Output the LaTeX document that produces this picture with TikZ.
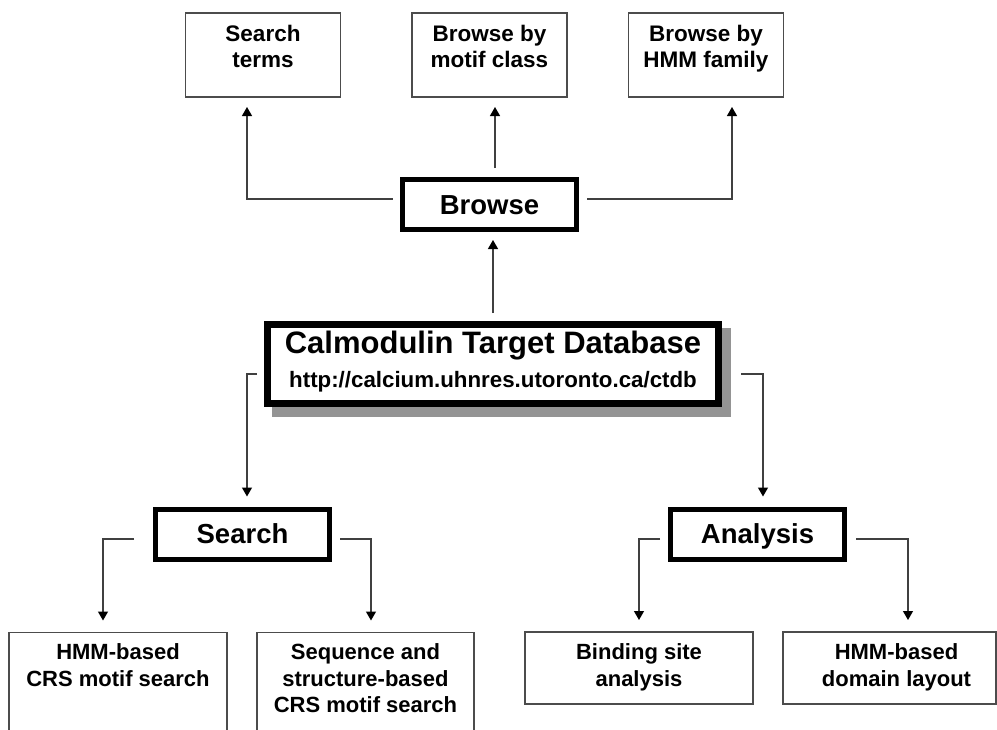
\documentclass[tikz,border=0pt]{standalone}
\usepackage{fontspec}
\setmainfont{Liberation Sans}
\usetikzlibrary{arrows.meta,backgrounds}
\begin{document}
\begin{tikzpicture}[x=1pt,y=-1pt,
 thinbox/.style={draw=black!70, line width=1.2pt, fill=white, inner sep=0pt, outer sep=0pt},
 thickbox/.style={draw=black, line width=5pt, fill=white, inner sep=0pt, outer sep=0pt,
   minimum width=174pt, minimum height=50pt, font=\fontsize{27.5}{30}\selectfont\bfseries,
   text height=19.8pt, text depth=0pt},
 tl/.style={anchor=base, inner sep=0pt, yshift=#1, font=\fontsize{22.5}{26}\selectfont\bfseries},
 bl/.style={anchor=base, inner sep=0pt, yshift=#1, font=\fontsize{22}{26}\selectfont\bfseries},
 conn/.style={draw=black!75, line width=1.2pt, -{Triangle[length=9pt,width=10pt,color=black]}},
]
\useasboundingbox (0,0) rectangle (997,729);
\clip (0,0) rectangle (997,729);

% top boxes
\node[thinbox, minimum width=155pt, minimum height=84pt,
  label={[tl=-28.4pt]north:Search}, label={[tl=-54.4pt]north:terms}] (sterms) at (263,55) {};
\node[thinbox, minimum width=155pt, minimum height=84pt,
  label={[tl=-28.4pt]north:Browse by}, label={[tl=-54.4pt]north:motif class}] (smotif) at (489.5,55) {};
\node[thinbox, minimum width=155pt, minimum height=84pt,
  label={[tl=-28.4pt]north:Browse by}, label={[tl=-54.4pt]north:HMM family}] (shmm) at (706,55) {};

% middle level
\node[thickbox] (browse) at (489.5,204.5) {Browse};
\node[draw=black, line width=7pt, fill=white, inner sep=0pt, outer sep=0pt,
  minimum width=451pt, minimum height=79pt,
  label={[anchor=base, inner sep=0pt, yshift=-28.5pt, font=\fontsize{31}{31}\selectfont\bfseries]north:Calmodulin Target Database},
  label={[anchor=base, inner sep=0pt, yshift=-62.5pt, font=\fontsize{22.3}{24}\selectfont\bfseries]north:http://calcium.uhnres.utoronto.ca/ctdb}]
  (ctdb) at (493,364) {};
\node[thickbox] (search) at (242.5,534) {Search};
\node[thickbox] (analysis) at (757.5,534) {Analysis};

% bottom boxes
\node[thinbox, minimum width=218pt, minimum height=129pt,
  label={[bl=-27.4pt]north:HMM-based}, label={[bl=-54.4pt]north:CRS motif search}] (hmmcrs) at (118,697) {};
\node[thinbox, minimum width=217pt, minimum height=129pt,
  label={[bl=-27.4pt]north:Sequence and}, label={[bl=-54.4pt]north:structure-based},
  label={[bl=-80.4pt]north:CRS motif search}] (seqstr) at (365.5,697) {};
\node[thinbox, minimum width=228pt, minimum height=72pt,
  label={[bl=-27.4pt]north:Binding site}, label={[bl=-54.4pt]north:analysis}] (binding) at (639,668) {};
\node[thinbox, minimum width=213pt, minimum height=72pt,
  label={[bl=-27.4pt, xshift=7pt]north:HMM-based}, label={[bl=-54.4pt, xshift=7pt]north:domain layout}] (domain) at (889.5,668) {};

% shadow and background
\begin{scope}[on background layer]
  \fill[white] (0,0) rectangle (997,729);
  \fill[black!42] ([xshift=4.5pt,yshift=-3.5pt]ctdb.north west) rectangle ([xshift=12.5pt,yshift=-13.5pt]ctdb.south east);
\end{scope}

% connectors
\draw[conn] ([xshift=-10pt,yshift=5.5pt]browse.west) -| ([xshift=-16pt,yshift=-10pt]sterms.south);
\draw[conn] ([xshift=5.5pt,yshift=11.5pt]browse.north) -- ([xshift=5.5pt,yshift=-10pt]smotif.south);
\draw[conn] ([xshift=10.5pt,yshift=5.5pt]browse.east) -| ([xshift=26pt,yshift=-10pt]shmm.south);
\draw[conn] ([yshift=11.5pt]ctdb.north) -- ([xshift=3.5pt,yshift=-10.5pt]browse.south);
\draw[conn] ([xshift=-10.5pt,yshift=-10pt]ctdb.west) -| ([xshift=4.5pt,yshift=12.5pt]search.north);
\draw[conn] ([xshift=22.5pt,yshift=-10pt]ctdb.east) -| ([xshift=5.5pt,yshift=12.5pt]analysis.north);
\draw[conn] ([xshift=-21.5pt,yshift=-5pt]search.west) -| ([xshift=-15pt,yshift=12pt]hmmcrs.north);
\draw[conn] ([xshift=10.5pt,yshift=-5pt]search.east) -| ([xshift=5.5pt,yshift=12pt]seqstr.north);
\draw[conn] ([xshift=-10.5pt,yshift=-5pt]analysis.west) -| ([yshift=12pt]binding.north);
\draw[conn] ([xshift=11.5pt,yshift=-5pt]analysis.east) -| ([xshift=18.5pt,yshift=12pt]domain.north);
\end{tikzpicture}
\end{document}
